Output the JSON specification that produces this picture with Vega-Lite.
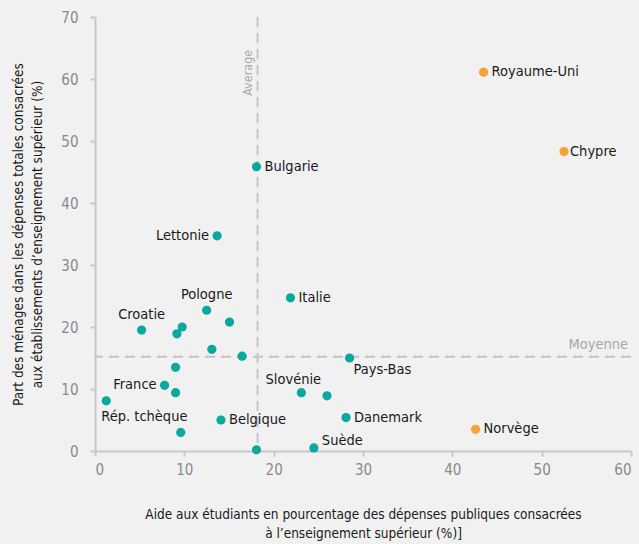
{
  "$schema": "https://vega.github.io/schema/vega-lite/v6.json",
  "width": 536,
  "height": 434,
  "autosize": {"type": "none"},
  "padding": {"left": 95, "top": 17, "right": 8, "bottom": 93},
  "background": "#f1f1f1",
  "config": {
    "view": {"stroke": null},
    "font": "DejaVu Sans Condensed, Roboto, sans-serif",
    "text": {"font": "DejaVu Sans Condensed, Roboto, sans-serif"},
    "axis": {
      "grid": false,
      "domainColor": "#c8c8c8",
      "domainWidth": 2,
      "tickColor": "#c8c8c8",
      "tickWidth": 2,
      "tickSize": 5,
      "labelColor": "#8a8a8a",
      "labelFontSize": 15,
      "labelFont": "DejaVu Sans Condensed, Roboto, sans-serif",
      "titleFont": "DejaVu Sans Condensed, Roboto, sans-serif",
      "titleFontSize": 13.5,
      "titleFontWeight": "normal",
      "titleColor": "#1a1a1a",
      "titleLineHeight": 19
    }
  },
  "datasets": {
    "pays": [
      {"pays": "Royaume-Uni", "aide": 43.5, "part": 61.1, "groupe": "B"},
      {"pays": "Chypre", "aide": 52.5, "part": 48.3, "groupe": "B"},
      {"pays": "Norvège", "aide": 42.6, "part": 3.5, "groupe": "B"},
      {"pays": "Bulgarie", "aide": 18.08, "part": 45.85, "groupe": "A"},
      {"pays": "Lettonie", "aide": 13.67, "part": 34.7, "groupe": "A"},
      {"pays": "Italie", "aide": 21.88, "part": 24.7, "groupe": "A"},
      {"pays": "Pologne", "aide": 12.5, "part": 22.7, "groupe": "A"},
      {"pays": "", "aide": 15.06, "part": 20.8, "groupe": "A"},
      {"pays": "Croatie", "aide": 5.22, "part": 19.5, "groupe": "A"},
      {"pays": "", "aide": 9.76, "part": 20.0, "groupe": "A"},
      {"pays": "", "aide": 9.17, "part": 18.9, "groupe": "A"},
      {"pays": "", "aide": 13.08, "part": 16.4, "groupe": "A"},
      {"pays": "", "aide": 16.47, "part": 15.3, "groupe": "A"},
      {"pays": "Pays-Bas", "aide": 28.5, "part": 15.0, "groupe": "A"},
      {"pays": "", "aide": 9.02, "part": 13.5, "groupe": "A"},
      {"pays": "France", "aide": 7.79, "part": 10.6, "groupe": "A"},
      {"pays": "", "aide": 9.02, "part": 9.4, "groupe": "A"},
      {"pays": "Rép. tchèque", "aide": 1.26, "part": 8.1, "groupe": "A"},
      {"pays": "Slovénie", "aide": 23.1, "part": 9.4, "groupe": "A"},
      {"pays": "", "aide": 25.97, "part": 8.9, "groupe": "A"},
      {"pays": "Danemark", "aide": 28.1, "part": 5.4, "groupe": "A"},
      {"pays": "Belgique", "aide": 14.1, "part": 5.0, "groupe": "A"},
      {"pays": "", "aide": 9.6, "part": 3.0, "groupe": "A"},
      {"pays": "", "aide": 18.08, "part": 0.2, "groupe": "A"},
      {"pays": "Suède", "aide": 24.5, "part": 0.5, "groupe": "A"}
    ]
  },
  "encoding": {
    "x": {
      "field": "aide", "type": "quantitative",
      "scale": {"domain": [0, 60], "nice": false},
      "axis": {
        "values": [0, 10, 20, 30, 40, 50, 60],
        "labelPadding": 6,
        "titlePadding": 30,
        "title": ["Aide aux étudiants en pourcentage des dépenses publiques consacrées", "à l’enseignement supérieur (%)]"]
      }
    },
    "y": {
      "field": "part", "type": "quantitative",
      "scale": {"domain": [0, 70], "nice": false},
      "axis": {
        "values": [0, 10, 20, 30, 40, 50, 60, 70],
        "labelPadding": 12,
        "titlePadding": 16,
        "title": ["Part des ménages dans les dépenses totales consacrées", "aux établissements d’enseignement supérieur (%)"]
      }
    }
  },
  "layer": [
    {
      "data": {"values": [{"moyenne_x": 18.2}]},
      "mark": {"type": "rule", "color": "#c4c4c4", "strokeWidth": 2, "strokeDash": [10, 6]},
      "encoding": {"x": {"field": "moyenne_x", "type": "quantitative"}, "y": null}
    },
    {
      "data": {"values": [{"moyenne_y": 15.2}]},
      "mark": {"type": "rule", "color": "#c4c4c4", "strokeWidth": 2, "strokeDash": [10, 6]},
      "encoding": {"y": {"field": "moyenne_y", "type": "quantitative"}, "x": null}
    },
    {
      "data": {"values": [{"lx": 18.2, "ly": 61, "t": "Average"}]},
      "mark": {"type": "text", "angle": 270, "align": "center", "baseline": "bottom", "dy": -3, "color": "#a8a8a8", "fontSize": 12.5},
      "encoding": {"x": {"field": "lx", "type": "quantitative"}, "y": {"field": "ly", "type": "quantitative"}, "text": {"field": "t"}}
    },
    {
      "data": {"values": [{"lx": 60, "ly": 15.2, "t": "Moyenne"}]},
      "mark": {"type": "text", "align": "right", "baseline": "bottom", "dx": -3, "dy": -5, "color": "#a8a8a8", "fontSize": 14.5},
      "encoding": {"x": {"field": "lx", "type": "quantitative"}, "y": {"field": "ly", "type": "quantitative"}, "text": {"field": "t"}}
    },
    {
      "data": {"name": "pays"},
      "mark": {"type": "circle", "size": 85, "opacity": 1},
      "encoding": {
        "color": {"field": "groupe", "type": "nominal", "scale": {"domain": ["A", "B"], "range": ["#0aa89e", "#f7a136"]}, "legend": null}
      }
    },
    {
      "data": {"name": "pays"},
      "transform": [{"filter": {"field": "pays", "oneOf": ["Royaume-Uni", "Bulgarie", "Italie", "Belgique", "Danemark", "Norvège"]}}],
      "mark": {"type": "text", "align": "left", "baseline": "middle", "dx": 8, "fontSize": 14.5, "color": "#1a1a1a"},
      "encoding": {"text": {"field": "pays"}}
    },
    {
      "data": {"name": "pays"},
      "transform": [{"filter": {"field": "pays", "equal": "Chypre"}}],
      "mark": {"type": "text", "align": "left", "baseline": "middle", "dx": 6, "fontSize": 14.5, "color": "#1a1a1a"},
      "encoding": {"text": {"field": "pays"}}
    },
    {
      "data": {"name": "pays"},
      "transform": [{"filter": {"field": "pays", "oneOf": ["Lettonie", "France"]}}],
      "mark": {"type": "text", "align": "right", "baseline": "middle", "dx": -8, "fontSize": 14.5, "color": "#1a1a1a"},
      "encoding": {"text": {"field": "pays"}}
    },
    {
      "data": {"name": "pays"},
      "transform": [{"filter": {"field": "pays", "oneOf": ["Pologne", "Croatie"]}}],
      "mark": {"type": "text", "align": "center", "baseline": "middle", "dy": -15, "fontSize": 14.5, "color": "#1a1a1a"},
      "encoding": {"text": {"field": "pays"}}
    },
    {
      "data": {"name": "pays"},
      "transform": [{"filter": {"field": "pays", "equal": "Rép. tchèque"}}],
      "mark": {"type": "text", "align": "left", "baseline": "middle", "dx": -5, "dy": 16, "fontSize": 14.5, "color": "#1a1a1a"},
      "encoding": {"text": {"field": "pays"}}
    },
    {
      "data": {"name": "pays"},
      "transform": [{"filter": {"field": "pays", "equal": "Slovénie"}}],
      "mark": {"type": "text", "align": "center", "baseline": "middle", "dx": -8, "dy": -13, "fontSize": 14.5, "color": "#1a1a1a"},
      "encoding": {"text": {"field": "pays"}}
    },
    {
      "data": {"name": "pays"},
      "transform": [{"filter": {"field": "pays", "equal": "Pays-Bas"}}],
      "mark": {"type": "text", "align": "left", "baseline": "middle", "dx": 4, "dy": 12, "fontSize": 14.5, "color": "#1a1a1a"},
      "encoding": {"text": {"field": "pays"}}
    },
    {
      "data": {"name": "pays"},
      "transform": [{"filter": {"field": "pays", "equal": "Suède"}}],
      "mark": {"type": "text", "align": "left", "baseline": "middle", "dx": 8, "dy": -7, "fontSize": 14.5, "color": "#1a1a1a"},
      "encoding": {"text": {"field": "pays"}}
    }
  ]
}
